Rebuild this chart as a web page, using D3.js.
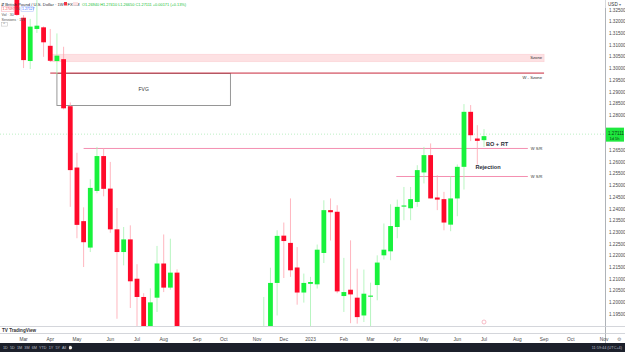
<!DOCTYPE html>
<html><head><meta charset="utf-8">
<script src="https://cdn.jsdelivr.net/npm/d3@7"></script>
<style>html,body{margin:0;padding:0;background:#fff;overflow:hidden}svg{display:block;font-family:"Liberation Sans",Arial,sans-serif}</style>
</head><body><svg id="c" width="625" height="352"></svg>
<script>
// ---- DATA (GBP/USD weekly, FXCM) ----
const weeks = ["2022-02-28","2022-03-07","2022-03-14","2022-03-21","2022-03-28","2022-04-04","2022-04-11","2022-04-18","2022-04-25",
"2022-05-02","2022-05-09","2022-05-16","2022-05-23","2022-05-30","2022-06-06","2022-06-13","2022-06-20","2022-06-27",
"2022-07-04","2022-07-11","2022-07-18","2022-07-25","2022-08-01","2022-08-08","2022-08-15","2022-08-22","2022-08-29",
"2022-09-05","2022-09-12","2022-09-19","2022-09-26","2022-10-03","2022-10-10","2022-10-17","2022-10-24","2022-10-31",
"2022-11-07","2022-11-14","2022-11-21","2022-11-28","2022-12-05","2022-12-12","2022-12-19","2022-12-26","2023-01-02",
"2023-01-09","2023-01-16","2023-01-23","2023-01-30","2023-02-06","2023-02-13","2023-02-20","2023-02-27","2023-03-06",
"2023-03-13","2023-03-20","2023-03-27","2023-04-03","2023-04-10","2023-04-17","2023-04-24","2023-05-01","2023-05-08",
"2023-05-15","2023-05-22","2023-05-29","2023-06-05","2023-06-12","2023-06-19","2023-06-26","2023-07-03"];
const open  = [1.3345,1.3217,1.3032,1.3169,1.3176,1.3097,1.3032,1.3040,1.2839,
1.2577,1.2348,1.2235,1.2477,1.2626,1.2487,1.2313,1.2216,1.2270,
1.2102,1.2024,1.1870,1.2021,1.2167,1.2064,1.2128,1.1835,1.1735,
1.1510,1.1590,1.1410,1.0860,1.1165,1.1090,1.1175,1.1300,1.1620,
1.1380,1.1840,1.1890,1.2084,1.2286,1.2255,1.2150,1.2043,1.2080,
1.2078,1.2212,1.2395,1.2388,1.2028,1.2055,1.2021,1.1945,1.2025,
1.2075,1.2202,1.2219,1.2323,1.2410,1.2403,1.2430,1.2556,1.2630,
1.2449,1.2442,1.2333,1.2445,1.2580,1.2815,1.2701,1.2694];
const high  = [1.3440,1.3228,1.3212,1.3298,1.3180,1.3169,1.3150,1.3093,1.2855,
1.2640,1.2407,1.2527,1.2665,1.2660,1.2601,1.2404,1.2323,1.2330,
1.2164,1.2040,1.2061,1.2242,1.2291,1.2273,1.2142,1.1895,1.1760,
1.1650,1.1738,1.1465,1.1235,1.1495,1.1380,1.1435,1.1645,1.1645,
1.1855,1.2024,1.2149,1.2309,1.2342,1.2445,1.2237,1.2124,1.2110,
1.2248,1.2437,1.2445,1.2416,1.2191,1.2266,1.2145,1.2141,1.2085,
1.2202,1.2338,1.2420,1.2440,1.2494,1.2494,1.2587,1.2665,1.2680,
1.2544,1.2473,1.2540,1.2590,1.2848,1.2844,1.2758,1.2741];
const low   = [1.3225,1.3002,1.2998,1.3152,1.3050,1.3028,1.2973,1.2825,1.2409,
1.2275,1.2152,1.2216,1.2467,1.2454,1.2298,1.1931,1.2159,1.1977,
1.1876,1.1760,1.1860,1.1960,1.2045,1.2055,1.1810,1.1650,1.1445,
1.1405,1.1350,1.0840,1.0350,1.1055,1.0925,1.0925,1.1260,1.1150,
1.1340,1.1710,1.1780,1.1945,1.2105,1.2110,1.1991,1.2000,1.1841,
1.2060,1.2169,1.2265,1.2040,1.1960,1.1912,1.1910,1.1917,1.1803,
1.2010,1.2184,1.2181,1.2275,1.2352,1.2352,1.2409,1.2509,1.2445,
1.2395,1.2309,1.2305,1.2369,1.2483,1.2690,1.2590,1.2665];
const close = [1.3229,1.3036,1.3179,1.3183,1.3112,1.3033,1.3055,1.2830,1.2566,
1.2332,1.2258,1.2490,1.2626,1.2486,1.2313,1.2216,1.2270,1.2091,
1.2024,1.1870,1.2001,1.2167,1.2064,1.2128,1.1830,1.1735,1.1510,
1.1590,1.1410,1.0860,1.1165,1.1090,1.1175,1.1300,1.1620,1.1380,
1.1840,1.1890,1.2084,1.2285,1.2263,1.2138,1.2043,1.2084,1.2088,
1.2226,1.2395,1.2386,1.2048,1.2045,1.2035,1.1938,1.2038,1.2030,
1.2171,1.2226,1.2327,1.2409,1.2415,1.2442,1.2566,1.2630,1.2445,
1.2440,1.2342,1.2445,1.2580,1.2815,1.2715,1.2691,1.27111];

const monthTickDates = ["2022-03-07","2022-04-04","2022-05-02","2022-06-06","2022-07-04","2022-08-01","2022-09-05","2022-10-03",
"2022-11-07","2022-12-05","2023-01-02","2023-02-06","2023-03-06","2023-04-03","2023-05-01","2023-06-05","2023-07-03",
"2023-08-07","2023-09-04","2023-10-02","2023-11-06"];
const monthTickLabels = ["Mar","Apr","May","Jun","Jul","Aug","Sep","Oct","Nov","Dec","2023","Feb","Mar","Apr","May","Jun","Jul","Aug","Sep","Oct","Nov"];
const priceTicks = [1.195,1.200,1.205,1.210,1.215,1.220,1.225,1.230,1.235,1.240,1.245,1.250,1.255,1.260,1.265,1.270,
1.275,1.280,1.285,1.290,1.295,1.300,1.305,1.310,1.315,1.320,1.325];

// drawings (price levels / zones)
const zoneSzone = {label:"Szone", top:1.3061, bottom:1.3029, from:"2022-04-04", to:"2023-09-04"};
const lineWSzone = {label:"W - Szone", price:1.29805, from:"2022-04-04", to:"2023-09-04"};
const boxFVG = {label:"FVG", top:1.2979, bottom:1.2842, from:"2022-04-11", to:"2022-10-10"};
const srLines = [{label:"W S/R", price:1.26585, from:"2022-05-09", to:"2023-08-18"},
                 {label:"W S/R", price:1.25387, from:"2023-04-02", to:"2023-08-18"}];
const notes = [{text:"BO + RT", date:"2023-07-05", price:1.2677, bold:true},
               {text:"Rejection", date:"2023-06-24", price:1.2578, bold:true}];

// ---- CHART ----
const parse = d3.utcParse("%Y-%m-%d");
const svg = d3.select("#c");
const W = 625, H = 352, plotR = 605, plotB = 326;
const x = d3.scaleUtc().domain([parse("2022-07-04"), parse("2023-07-03")]).range([137, 484]);
const y = d3.scaleLinear().domain([1.195, 1.325]).range([314.3, 10]);
const bodyW = 4.8;

svg.append("rect").attr("width",W).attr("height",H).attr("fill","#fff");
svg.append("defs").append("clipPath").attr("id","plot").append("rect").attr("x",0).attr("y",0).attr("width",plotR).attr("height",plotB);
const g = svg.append("g").attr("clip-path","url(#plot)");

const RED = "#ff0a2a", GREEN = "#18f23c", RED_W = "#ffa3ae", GREEN_W = "#a6f2b1";
const lastClose = close[close.length-1];
const ly = y(lastClose) - 2;

// last price line
g.append("line").attr("x1",0).attr("x2",plotR).attr("y1",ly).attr("y2",ly)
  .attr("stroke","#8fe39b").attr("stroke-width",0.6).attr("stroke-dasharray","1,2");

// Szone
g.append("rect").attr("x",x(parse(zoneSzone.from))).attr("y",y(zoneSzone.top))
  .attr("width",x(parse(zoneSzone.to))-x(parse(zoneSzone.from))).attr("height",y(zoneSzone.bottom)-y(zoneSzone.top))
  .attr("fill","#fde1e3").attr("stroke","#fbcfd3").attr("stroke-width",0.6);
g.append("text").attr("x",x(parse(zoneSzone.to))-2).attr("y",(y(zoneSzone.top)+y(zoneSzone.bottom))/2+1.5)
  .attr("text-anchor","end").attr("font-size",4.2).attr("fill","#333").text(zoneSzone.label);

// FVG box
g.append("rect").attr("x",x(parse(boxFVG.from))).attr("y",y(boxFVG.top))
  .attr("width",x(parse(boxFVG.to))-x(parse(boxFVG.from))).attr("height",y(boxFVG.bottom)-y(boxFVG.top))
  .attr("fill","#fff").attr("stroke","#8c8c8c").attr("stroke-width",0.9);
g.append("text").attr("x",(x(parse(boxFVG.from))+x(parse(boxFVG.to)))/2).attr("y",(y(boxFVG.top)+y(boxFVG.bottom))/2+1.8)
  .attr("text-anchor","middle").attr("font-size",5).attr("fill","#333").text(boxFVG.label);

// W - Szone line
g.append("line").attr("x1",x(parse(lineWSzone.from))).attr("x2",x(parse(lineWSzone.to)))
  .attr("y1",y(lineWSzone.price)).attr("y2",y(lineWSzone.price)).attr("stroke","#c8283c").attr("stroke-width",1);
g.append("text").attr("x",x(parse(lineWSzone.to))-2).attr("y",y(lineWSzone.price)+5.5)
  .attr("text-anchor","end").attr("font-size",4.2).attr("fill","#333").text(lineWSzone.label);

// S/R lines
srLines.forEach(l=>{
  g.append("line").attr("x1",x(parse(l.from))).attr("x2",x(parse(l.to)))
    .attr("y1",y(l.price)).attr("y2",y(l.price)).attr("stroke","#f48fb1").attr("stroke-width",1);
  g.append("text").attr("x",x(parse(l.to))+3).attr("y",y(l.price)+1.5)
    .attr("font-size",4).attr("fill","#333").text(l.label);
});

// candles
const idx = d3.range(weeks.length);
g.selectAll("line.wick").data(idx).join("line").attr("class","wick")
  .attr("x1",i=>x(parse(weeks[i]))).attr("x2",i=>x(parse(weeks[i])))
  .attr("y1",i=>y(high[i])).attr("y2",i=>y(low[i]))
  .attr("stroke",i=>close[i]>=open[i]?GREEN_W:RED_W).attr("stroke-width",0.8);
g.selectAll("rect.body").data(idx).join("rect").attr("class","body")
  .attr("x",i=>x(parse(weeks[i]))-bodyW/2).attr("width",bodyW)
  .attr("y",i=>y(Math.max(open[i],close[i])))
  .attr("height",i=>Math.max(1.2,Math.abs(y(open[i])-y(close[i]))))
  .attr("fill",i=>close[i]>=open[i]?GREEN:RED);

// notes
notes.forEach(n=>{
  g.append("text").attr("x",x(parse(n.date))).attr("y",y(n.price)+2).attr("font-size",5.6)
   .attr("font-weight",n.bold?"bold":"normal").attr("fill","#2a2e39").text(n.text);
});

// small event marker
g.append("circle").attr("cx",x(parse("2023-07-03"))).attr("cy",322).attr("r",2).attr("fill","#fff").attr("stroke","#f4a0b0").attr("stroke-width",0.7);

// ---- price axis ----
svg.append("line").attr("x1",605.5).attr("x2",605.5).attr("y1",0).attr("y2",343).attr("stroke","#9aa0a6").attr("stroke-width",0.8);
svg.selectAll("text.pt").data(priceTicks.filter(d=>Math.abs(y(d)-ly)>8)).join("text").attr("class","pt")
  .attr("x",609).attr("y",d=>y(d)+1.6).attr("font-size",4.6).attr("fill","#4a4a4a").text(d=>d.toFixed(5));
svg.append("rect").attr("x",605.5).attr("y",0).attr("width",20).attr("height",8).attr("fill","#fff");
svg.append("text").attr("x",608).attr("y",5.5).attr("font-size",4.6).attr("fill","#333").text("USD");
svg.append("text").attr("x",619).attr("y",5.5).attr("font-size",3.5).attr("fill","#777").text("▾");
// last price tag
svg.append("rect").attr("x",606).attr("y",ly-6.5).attr("width",18).attr("height",14).attr("fill","#1ee83e");
svg.append("text").attr("x",608).attr("y",ly+1.2).attr("font-size",4.6).attr("fill","#0a3d12").text(lastClose.toFixed(5));
svg.append("text").attr("x",609.5).attr("y",ly+6).attr("font-size",4.0).attr("fill","#0a3d12").text("1d 5h");

// ---- bottom ----
svg.append("line").attr("x1",0).attr("x2",W).attr("y1",326.5).attr("y2",326.5).attr("stroke","#c9ccd2").attr("stroke-width",0.8);
svg.append("line").attr("x1",0).attr("x2",W).attr("y1",333.5).attr("y2",333.5).attr("stroke","#c9ccd2").attr("stroke-width",0.8);
svg.append("text").attr("x",2).attr("y",331.5).attr("font-size",4.6).attr("font-weight","bold").attr("fill","#333").text("TV TradingView");
svg.selectAll("text.mt").data(monthTickDates).join("text").attr("class","mt")
  .attr("x",d=>x(parse(d))).attr("y",341).attr("text-anchor","middle").attr("font-size",4.8).attr("fill","#4a4a4a")
  .text((d,i)=>monthTickLabels[i]);
svg.append("text").attr("x",619).attr("y",341).attr("text-anchor","middle").attr("font-size",5).attr("fill","#888").text("⚙");
svg.append("rect").attr("x",0).attr("y",343).attr("width",W).attr("height",9).attr("fill","#1c202b");
svg.append("text").attr("x",3).attr("y",349.3).attr("font-size",3.8).attr("fill","#b8bcc6").attr("xml:space","preserve")
  .text("1D  5D  1M  3M  6M  YTD  1Y  5Y  All  ⌚");
svg.append("text").attr("x",622).attr("y",349.3).attr("text-anchor","end").attr("font-size",3.8).attr("fill","#b8bcc6").text("11:59:44 (UTC+4)");

// ---- legend (top-left) ----
const lg = svg.append("g").attr("font-size",4.2);
lg.append("text").attr("x",1).attr("y",5.5).attr("fill","#2a2e39").text("⇵ British Pound / U.S. Dollar · 1W · FXCM");
lg.append("rect").attr("x",64).attr("y",2).attr("width",3).attr("height",3.5).attr("fill","#f23645");
lg.append("rect").attr("x",73).attr("y",2).attr("width",5).attr("height",3.5).attr("fill","#fde1e3");
lg.append("text").attr("x",82).attr("y",5.5).attr("fill","#17c037").attr("font-size",3.9)
  .text("O"+open[open.length-1].toFixed(5)+" H"+high[high.length-1].toFixed(5)+" L"+low[low.length-1].toFixed(5)+" C"+lastClose.toFixed(5)+" +0.00171 (+0.13%)");
lg.append("rect").attr("x",1.5).attr("y",6.8).attr("width",12.5).attr("height",4.4).attr("fill","#fff").attr("stroke","#f7a1ab").attr("stroke-width",0.5);
lg.append("text").attr("x",2.6).attr("y",10.2).attr("fill","#f23645").attr("font-size",3.4).text("1.27097");
lg.append("text").attr("x",15.2).attr("y",10.2).attr("fill","#555").attr("font-size",3.4).text("3.0");
lg.append("rect").attr("x",21).attr("y",6.8).attr("width",12.5).attr("height",4.4).attr("fill","#fff").attr("stroke","#9fb4f5").attr("stroke-width",0.5);
lg.append("text").attr("x",22.1).attr("y",10.2).attr("fill","#2962ff").attr("font-size",3.4).text("1.27127");
lg.append("text").attr("x",1.5).attr("y",16).attr("fill","#555").attr("font-size",3.6).text("Vol · 30");
lg.append("text").attr("x",1.5).attr("y",21).attr("fill","#555").attr("font-size",3.6).text("Sessions · 1W");
lg.append("rect").attr("x",1.5).attr("y",22.3).attr("width",6).attr("height",3.8).attr("fill","#fff").attr("stroke","#bbb").attr("stroke-width",0.5);
lg.append("text").attr("x",3.2).attr("y",25.4).attr("fill","#555").attr("font-size",3.4).text("^");
</script></body></html>
